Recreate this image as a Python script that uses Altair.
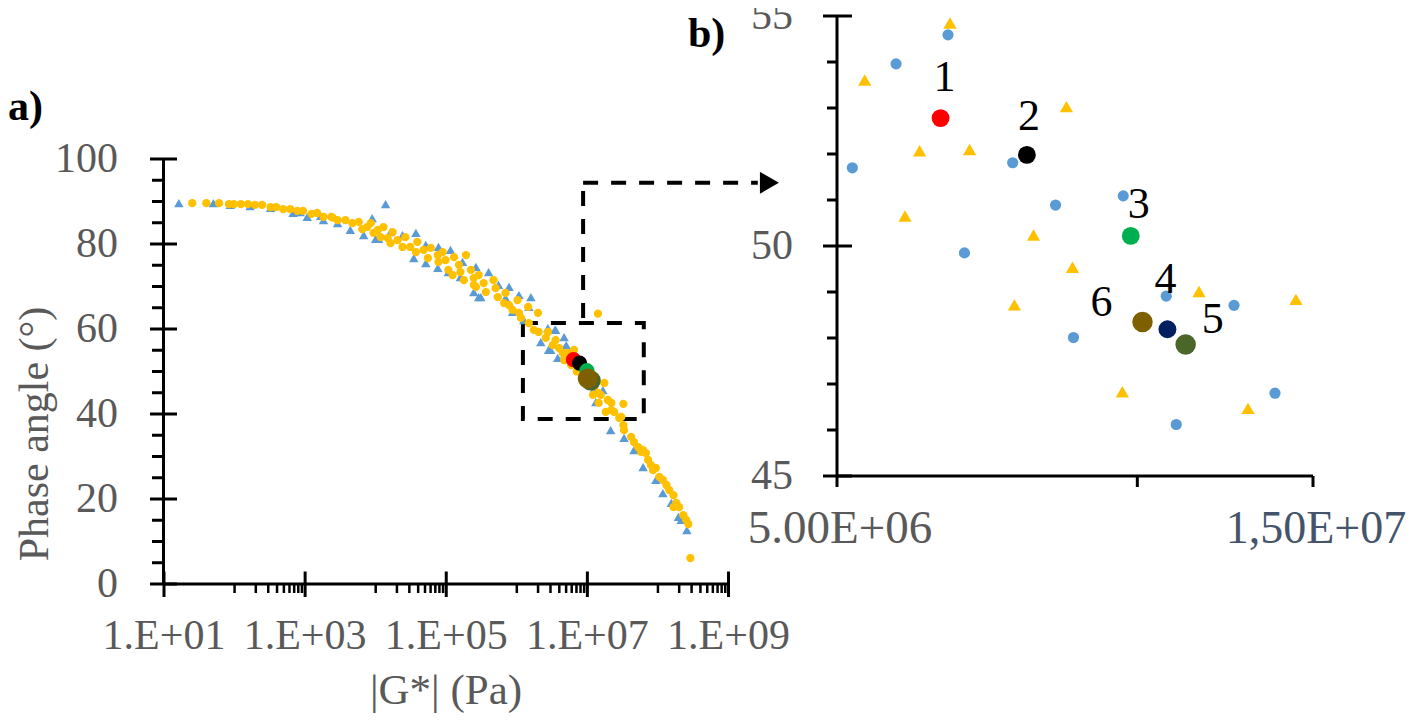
import altair as alt
import pandas as pd

SERIF = "Liberation Serif"
GRAY = "#595959"
BLUE = "#5B9BD5"
ORANGE = "#FFC000"

# ---------------- panel a) data (read from the picture) ----------------
# log10(|G*|) and phase angle of the blue triangles
a_tri_log10G = [1.21, 1.70, 1.94, 2.22, 2.51, 2.83, 2.93, 3.03, 3.22, 3.26, 3.46, 3.64, 3.83, 3.95,
                4.00, 4.04, 4.14, 4.21, 4.38, 4.54, 4.57, 4.71, 4.71, 4.88, 4.89, 5.03, 5.06, 5.20,
                5.23, 5.39, 5.42, 5.46, 5.49, 5.60, 5.74, 5.84, 5.89, 5.94, 6.03, 6.10, 6.17, 6.20,
                6.34, 6.44, 6.45, 6.48, 6.54, 6.55, 6.58, 6.65, 6.67, 6.70, 6.81, 6.90, 7.00, 7.05,
                7.10, 7.12, 7.22, 7.33, 7.52, 7.66, 7.79, 7.97, 8.07, 8.19, 8.29, 8.33, 8.41]
a_tri_phase = [89.6, 89.6, 89.2, 88.9, 88.5, 87.3, 87.5, 86.4, 86.6, 85.6, 84.9, 83.3, 82.1, 86.1,
               81.2, 81.2, 89.4, 82.8, 82.1, 76.7, 82.6, 79.8, 75.5, 74.4, 79.3, 73.4, 78.6, 72.2,
               75.8, 68.7, 74.6, 67.5, 67.5, 73.4, 70.4, 67.3, 69.9, 64.0, 68.0, 62.1, 65.2, 67.5,
               56.9, 60.2, 55.1, 55.1, 59.8, 59.8, 53.2, 53.2, 58.1, 56.2, 54.6, 50.5, 49.0, 47.5,
               46.0, 42.8, 45.6, 36.2, 34.4, 31.5, 27.5, 24.5, 21.4, 19.1, 15.8, 15.1, 12.7]

# log10(|G*|) and phase angle of the orange circles
a_circ_log10G = [1.40, 1.60, 1.78, 1.92, 1.99, 2.09, 2.19, 2.29, 2.39, 2.51, 2.59, 2.69, 2.79, 2.89,
                 2.97, 3.09, 3.17, 3.26, 3.37, 3.39, 3.46, 3.57, 3.67, 3.76, 3.81, 3.88, 3.93, 3.97,
                 4.03, 4.07, 4.11, 4.17, 4.21, 4.24, 4.31, 4.38, 4.42, 4.49, 4.57, 4.59, 4.68, 4.74,
                 4.78, 4.88, 4.89, 4.95, 4.99, 5.03, 5.09, 5.11, 5.18, 5.20, 5.25, 5.28, 5.35, 5.39,
                 5.39, 5.42, 5.46, 5.53, 5.56, 5.67, 5.70, 5.73, 5.82, 5.84, 5.89, 5.94, 6.01, 6.03,
                 6.06, 6.16, 6.17, 6.24, 6.30, 6.31, 6.41, 6.44, 6.51, 6.55, 6.60, 6.65, 6.67, 6.72,
                 6.72, 6.77, 6.81, 6.85, 6.95, 7.05, 7.08, 7.10, 7.15, 7.16, 7.16, 7.19, 7.24, 7.26,
                 7.29, 7.34, 7.34, 7.38, 7.45, 7.48, 7.51, 7.51, 7.52, 7.62, 7.66, 7.72, 7.76, 7.79,
                 7.83, 7.86, 7.90, 7.93, 7.97, 8.02, 8.07, 8.12, 8.16, 8.22, 8.22, 8.26, 8.30, 8.36,
                 8.40, 8.43, 8.46]
a_circ_phase = [89.6, 89.6, 89.6, 89.4, 89.4, 89.4, 89.4, 89.2, 89.2, 88.7, 88.7, 88.2, 88.2, 87.8,
                87.8, 87.1, 87.3, 86.4, 86.4, 86.2, 85.6, 85.6, 84.9, 85.2, 83.5, 84.0, 84.9, 82.6,
                83.3, 81.6, 84.0, 81.4, 80.2, 82.8, 80.9, 79.3, 81.6, 79.3, 78.1, 80.5, 78.6, 76.7,
                79.1, 77.4, 75.8, 78.1, 76.2, 73.9, 72.7, 76.9, 75.1, 73.4, 71.5, 77.4, 73.9, 72.0,
                70.4, 69.9, 72.7, 70.8, 68.7, 71.5, 69.6, 67.5, 66.1, 68.5, 65.6, 64.5, 66.8, 63.8,
                62.6, 65.2, 61.4, 59.8, 63.8, 59.3, 57.9, 59.3, 56.2, 57.4, 55.5, 54.4, 52.7, 54.4,
                53.4, 51.5, 55.1, 50.0, 49.0, 47.8, 44.5, 46.5, 63.6, 44.9, 42.6, 44.5, 47.3, 40.5,
                43.3, 42.6, 40.9, 40.5, 39.1, 39.3, 42.4, 37.4, 36.2, 34.6, 33.4, 32.2, 31.1, 31.5,
                30.8, 29.2, 28.0, 26.8, 27.3, 25.2, 24.5, 23.3, 22.1, 20.9, 18.1, 19.1, 18.1, 16.2,
                15.1, 14.1, 6.1]

# highlighted samples 1..6 (same in both panels)
hl_id = ["1", "2", "3", "4", "5", "6"]
hl_G = [6.35e6, 7.75e6, 9.85e6, 1.072e7, 1.118e7, 1.012e7]
hl_phase = [52.78, 51.98, 50.22, 48.19, 47.86, 48.35]
hl_colors = ["#FF0000", "#000000", "#00B050", "#002060", "#4A6629", "#7F6000"]

# ---------------- panel b) data ----------------
b_circ_G = [6.46e6, 5.73e6, 5.18e6, 7.50e6, 8.28e6, 9.68e6, 6.71e6, 8.63e6, 1.069e7, 1.250e7, 1.374e7, 1.094e7]
b_circ_phase = [54.59, 53.96, 51.70, 51.81, 50.89, 51.09, 49.85, 48.01, 48.91, 48.71, 46.80, 46.12]
b_tri_G = [6.49e6, 5.33e6, 8.49e6, 6.05e6, 6.79e6, 5.85e6, 7.87e6, 8.61e6, 7.53e6, 1.153e7, 1.442e7, 9.66e6, 1.291e7]
b_tri_phase = [54.85, 53.61, 53.03, 52.07, 52.10, 50.65, 50.24, 49.54, 48.72, 49.01, 48.84, 46.83, 46.47]

# zoom box and arrow (data coordinates of panel a)
box_G = [1.22e6, 6.3e7]
box_phase = [38.8, 61.4]
arrow_G = [8.7e6, 2.6e9]
arrow_phase = [62.6, 94.4]
arrow_head_G = [3.8e9]

# ticks and tick labels
a_x_ticks = [1e1, 1e3, 1e5, 1e7, 1e9]
a_x_labels = ["1.E+01", "1.E+03", "1.E+05", "1.E+07", "1.E+09"]
a_x_minor = [k * 10 ** e for e in (2, 4, 6, 8) for k in range(1, 10)]
a_y_ticks = [0, 20, 40, 60, 80, 100]
a_y_labels = ["0", "20", "40", "60", "80", "100"]
a_y_minor = [5, 10, 15, 25, 30, 35, 45, 50, 55, 65, 70, 75, 85, 90, 95]
b_x_ticks = [5e6, 1e7, 1.5e7]
b_x_labels = ["5.00E+06", "", "1,50E+07"]
b_y_ticks = [45, 50, 55]
b_y_labels = ["45", "50", "55"]
b_y_minor = [46, 47, 48, 49, 51, 52, 53, 54]

# ---------------- tables ----------------
a_tri = pd.DataFrame({"G": [10 ** v for v in a_tri_log10G], "phase": a_tri_phase})
a_circ = pd.DataFrame({"G": [10 ** v for v in a_circ_log10G], "phase": a_circ_phase})
hl = pd.DataFrame({"id": hl_id, "G": hl_G, "phase": hl_phase})
b_circ = pd.DataFrame({"G": b_circ_G, "phase": b_circ_phase})
b_tri = pd.DataFrame({"G": b_tri_G, "phase": b_tri_phase})

# ---------------- scales ----------------
xa = alt.Scale(type="log", domain=[10, 1e9], range=[156, 720.5], nice=False)
ya = alt.Scale(type="linear", domain=[0, 100], range=[576, 151], nice=False, zero=False)
xb = alt.Scale(type="log", domain=[5e6, 1.5e7], range=[829, 1305], nice=False)
yb = alt.Scale(type="linear", domain=[45, 55], range=[468, 8], nice=False, zero=False)


def X(field, scale):
    return alt.X(field, scale=scale, axis=None)


def Y(field, scale):
    return alt.Y(field, scale=scale, axis=None)


def xy(sx, sy):
    return dict(x=X("G:Q", sx), y=Y("phase:Q", sy))


def rule(df, **kw):
    return alt.Chart(df).mark_rule(color="black", strokeWidth=kw.pop("sw", 3)).encode(**kw)


def label(df, size, color=GRAY, align="center", baseline="middle", angle=0, weight="normal", dx=0, **enc):
    return alt.Chart(df).mark_text(font=SERIF, fontSize=size, color=color, align=align, baseline=baseline,
                                   angle=angle, fontWeight=weight, dx=dx).encode(**enc)


# ---------------- panel a ----------------
A = []
A.append(alt.Chart(pd.DataFrame({"g0": [box_G[0]], "g1": [box_G[1]], "p0": [box_phase[0]], "p1": [box_phase[1]]}))
         .mark_rect(fillOpacity=0, stroke="black", strokeWidth=4, strokeDash=[15, 13])
         .encode(x=X("g0:Q", xa), x2="g1:Q", y=Y("p0:Q", ya), y2="p1:Q"))
A.append(alt.Chart(a_tri).mark_point(shape="triangle-up", filled=True, color=BLUE, size=90, opacity=1)
         .encode(**xy(xa, ya)))
A.append(alt.Chart(a_circ).mark_circle(color=ORANGE, size=68, opacity=1).encode(**xy(xa, ya)))
sizes_a = [230, 230, 230, 230, 400, 400]
for i in range(6):
    A.append(alt.Chart(hl.iloc[[i]]).mark_circle(color=hl_colors[i], size=sizes_a[i], opacity=1)
             .encode(**xy(xa, ya)))
arrow_df = pd.DataFrame({"g0": [arrow_G[0]], "g1": [arrow_G[1]], "p0": [arrow_phase[0]], "p1": [arrow_phase[1]],
                         "gh": [arrow_head_G[0]]})
A.append(alt.Chart(arrow_df).mark_rule(color="black", strokeWidth=4, strokeDash=[15, 13])
         .encode(x=X("g0:Q", xa), y=Y("p0:Q", ya), y2="p1:Q"))
A.append(alt.Chart(arrow_df).mark_rule(color="black", strokeWidth=4, strokeDash=[15, 13])
         .encode(x=X("g0:Q", xa), x2="g1:Q", y=Y("p1:Q", ya)))
A.append(alt.Chart(arrow_df).mark_point(shape="triangle-right", filled=True, color="black", size=480, opacity=1)
         .encode(x=X("gh:Q", xa), y=Y("p1:Q", ya)))
# axis lines
A.append(rule(pd.DataFrame({"a": [0], "b": [100]}), y=Y("a:Q", ya), y2="b:Q", x=alt.value(155.5)))
A.append(rule(pd.DataFrame({"a": [10], "b": [1e9]}), x=X("a:Q", xa), x2="b:Q", y=alt.value(576)))
# ticks
A.append(rule(pd.DataFrame({"v": a_y_minor}), y=Y("v:Q", ya), x=alt.value(144), x2=alt.value(155.5)))
A.append(rule(pd.DataFrame({"v": a_y_ticks}), y=Y("v:Q", ya), x=alt.value(142), x2=alt.value(169)))
A.append(rule(pd.DataFrame({"v": a_x_minor}), x=X("v:Q", xa), y=alt.value(576), y2=alt.value(585), sw=2.5))
A.append(rule(pd.DataFrame({"v": a_x_ticks}), x=X("v:Q", xa), y=alt.value(563.5), y2=alt.value(589)))
# tick labels and titles
A.append(label(pd.DataFrame({"v": a_y_ticks, "t": a_y_labels}), 42, align="right",
               y=Y("v:Q", ya), x=alt.value(110), text="t:N"))
A.append(label(pd.DataFrame({"v": a_x_ticks, "t": a_x_labels}), 42,
               x=X("v:Q", xa), y=alt.value(628), text="t:N"))
A.append(label(pd.DataFrame({"t": ["|G*| (Pa)"]}), 43, baseline="alphabetic",
               x=alt.value(438), y=alt.value(696), text="t:N"))
A.append(label(pd.DataFrame({"t": ["Phase angle (°)"]}), 42, baseline="alphabetic", angle=270,
               x=alt.value(40), y=alt.value(426), text="t:N"))
A.append(label(pd.DataFrame({"t": ["a)"]}), 42, color="black", align="left", baseline="alphabetic",
               weight="bold", x=alt.value(0), y=alt.value(112), text="t:N"))
panel_a = alt.layer(*A)

# ---------------- panel b ----------------
B = []
B.append(alt.Chart(b_circ).mark_circle(color=BLUE, size=125, opacity=1).encode(**xy(xb, yb)))
B.append(alt.Chart(b_tri).mark_point(shape="triangle-up", filled=True, color=ORANGE, size=175, opacity=1)
         .encode(**xy(xb, yb)))
sizes_b = [320, 320, 320, 320, 420, 420]
label_dx = [4, 2, 8, -2, 27, -41]
label_dy = [-40, -38, -31, -49, -24, -19]
for i in range(6):
    B.append(alt.Chart(hl.iloc[[i]]).mark_circle(color=hl_colors[i], size=sizes_b[i], opacity=1)
             .encode(**xy(xb, yb)))
for i in range(6):
    B.append(alt.Chart(hl.iloc[[i]]).mark_text(font=SERIF, fontSize=44, color="black",
                                               dx=label_dx[i], dy=label_dy[i], baseline="middle")
             .encode(text="id:N", **xy(xb, yb)))
# axis lines
B.append(rule(pd.DataFrame({"a": [45], "b": [55]}), y=Y("a:Q", yb), y2="b:Q", x=alt.value(829)))
B.append(rule(pd.DataFrame({"a": [5e6], "b": [1.5e7]}), x=X("a:Q", xb), x2="b:Q", y=alt.value(468)))
# ticks
B.append(rule(pd.DataFrame({"v": b_y_minor}), y=Y("v:Q", yb), x=alt.value(819), x2=alt.value(829)))
B.append(rule(pd.DataFrame({"v": b_y_ticks}), y=Y("v:Q", yb), x=alt.value(815), x2=alt.value(844)))
B.append(rule(pd.DataFrame({"v": b_x_ticks}), x=X("v:Q", xb), y=alt.value(468), y2=alt.value(479)))
# tick labels
B.append(label(pd.DataFrame({"v": b_y_ticks, "t": b_y_labels}), 42, align="right",
               y=Y("v:Q", yb), x=alt.value(785), text="t:N"))
B.append(label(pd.DataFrame({"v": b_x_ticks[:1], "t": b_x_labels[:1]}), 47, dx=3,
               x=X("v:Q", xb), y=alt.value(521), text="t:N"))
B.append(label(pd.DataFrame({"v": b_x_ticks[2:], "t": b_x_labels[2:]}), 46, color="#44546A", dx=3,
               x=X("v:Q", xb), y=alt.value(521), text="t:N"))
B.append(label(pd.DataFrame({"t": ["b)"]}), 42, color="black", align="left", baseline="alphabetic",
               weight="bold", x=alt.value(680), y=alt.value(39), text="t:N"))
panel_b = alt.layer(*B)

chart = (alt.layer(panel_a, panel_b)
         .resolve_scale(x="independent", y="independent")
         .properties(width=1402, height=707, autosize=alt.AutoSizeParams(type="none"), padding=0)
         .configure_view(stroke=None))

chart.save("out.html", embed_options={"renderer": "svg", "actions": False})
